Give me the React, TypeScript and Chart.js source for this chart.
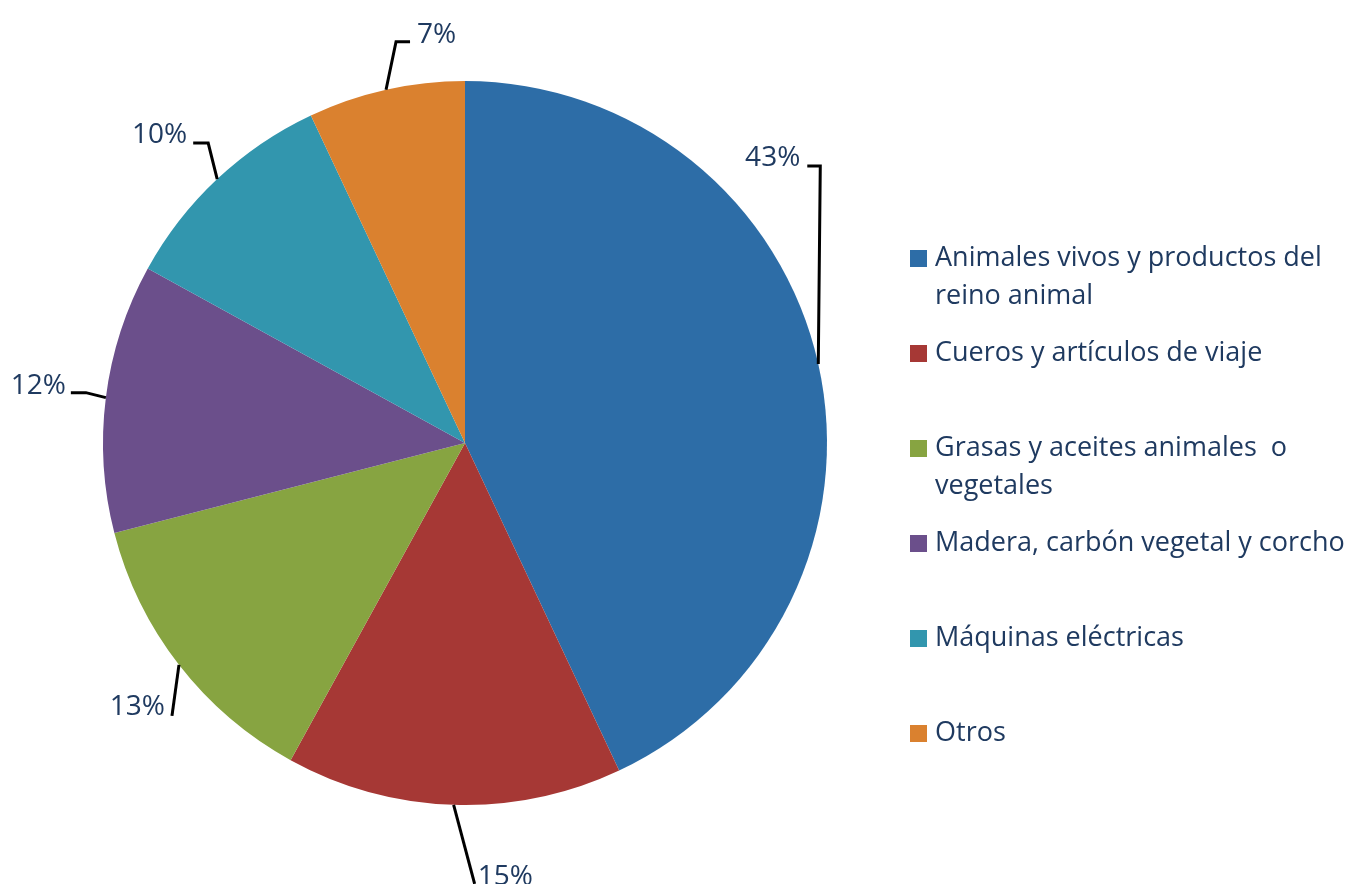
import React, { useEffect, useRef } from "react";
import { Chart, registerables } from "chart.js";

Chart.register(...registerables);

const categories: string[] = [
  "Animales vivos y productos del reino animal",
  "Cueros y artículos de viaje",
  "Grasas y aceites animales  o vegetales",
  "Madera, carbón vegetal y corcho",
  "Máquinas eléctricas",
  "Otros",
];
const legendLines: string[][] = [
  ["Animales vivos y productos del", "reino animal"],
  ["Cueros y artículos de viaje"],
  ["Grasas y aceites animales  o", "vegetales"],
  ["Madera, carbón vegetal y corcho"],
  ["Máquinas eléctricas"],
  ["Otros"],
];
const values: number[] = [43, 15, 13, 12, 10, 7];
const percentLabels: string[] = ["43%", "15%", "13%", "12%", "10%", "7%"];
const colors: string[] = ["#2D6DA7", "#A63835", "#87A441", "#6B4F8B", "#3296AE", "#DA812F"];

const TEXT_COLOR = "#1F3A60";
const LEGEND_FONT = "27px 'Open Sans', Lato, sans-serif";
const LABEL_FONT = "28px 'Open Sans', Lato, sans-serif";

// leader-line layout: offsets from the arc edge midpoint (elbow, end), text anchor
type LeaderLayout = { elbow: [number, number]; end: [number, number]; text: [number, number]; align: CanvasTextAlign };
const leaderLayout: LeaderLayout[] = [
  { elbow: [2, -198], end: [-11, -198], text: [-18, -206], align: "right" },
  { elbow: [21, 79], end: [21, 79], text: [24, 72], align: "left" },
  { elbow: [-7, 51], end: [-7, 51], text: [-14, 42], align: "right" },
  { elbow: [-20, -5], end: [-35, -5], text: [-40, -12], align: "right" },
  { elbow: [-9, -36], end: [-24, -36], text: [-30, -44], align: "right" },
  { elbow: [10, -48], end: [24, -48], text: [31, -55], align: "left" },
];

const leaderPlugin = {
  id: "leaderLabels",
  afterDatasetsDraw(chart: any) {
    const ctx = chart.ctx as CanvasRenderingContext2D;
    const meta = chart.getDatasetMeta(0);
    meta.data.forEach((arc: any, i: number) => {
      const mid = (arc.startAngle + arc.endAngle) / 2;
      const ex = arc.x + Math.cos(mid) * arc.outerRadius;
      const ey = arc.y + Math.sin(mid) * arc.outerRadius;
      const L = leaderLayout[i];
      ctx.save();
      ctx.strokeStyle = "#000";
      ctx.lineWidth = 3;
      ctx.beginPath();
      ctx.moveTo(ex, ey);
      ctx.lineTo(ex + L.elbow[0], ey + L.elbow[1]);
      ctx.lineTo(ex + L.end[0], ey + L.end[1]);
      ctx.stroke();
      ctx.fillStyle = TEXT_COLOR;
      ctx.font = LABEL_FONT;
      ctx.textAlign = L.align;
      ctx.textBaseline = "middle";
      ctx.fillText(percentLabels[i], ex + L.text[0], ey + L.text[1]);
      ctx.restore();
    });
  },
};

const legendPlugin = {
  id: "customLegend",
  afterDraw(chart: any) {
    const ctx = chart.ctx as CanvasRenderingContext2D;
    const x0 = 910;
    const y0 = 258;
    const step = 95;
    const lineH = 38;
    ctx.save();
    ctx.font = LEGEND_FONT;
    ctx.textBaseline = "middle";
    ctx.textAlign = "left";
    legendLines.forEach((lines, i) => {
      const cy = y0 + i * step;
      ctx.fillStyle = colors[i];
      ctx.fillRect(x0, cy - 8, 17, 17);
      ctx.fillStyle = TEXT_COLOR;
      lines.forEach((t, j) => ctx.fillText(t, x0 + 25, cy + j * lineH));
    });
    ctx.restore();
  },
};

export default function App() {
  const ref = useRef<HTMLCanvasElement>(null);
  useEffect(() => {
    if (!ref.current) return;
    const chart = new Chart(ref.current, {
      type: "pie",
      data: {
        labels: categories,
        datasets: [
          {
            data: values,
            backgroundColor: colors,
            borderWidth: 0,
          },
        ],
      },
      options: {
        responsive: false,
        animation: false,
        layout: { padding: { left: 103, top: 81, right: 531, bottom: 79 } },
        plugins: {
          legend: { display: false },
          tooltip: { enabled: false },
        },
      },
      plugins: [leaderPlugin, legendPlugin],
    });
    return () => chart.destroy();
  }, []);
  return (
    <div style={{ position: "absolute", left: 0, top: 0, width: 1358, height: 884, background: "#fff" }}>
      <canvas ref={ref} width={1358} height={884} style={{ width: 1358, height: 884 }} />
    </div>
  );
}
